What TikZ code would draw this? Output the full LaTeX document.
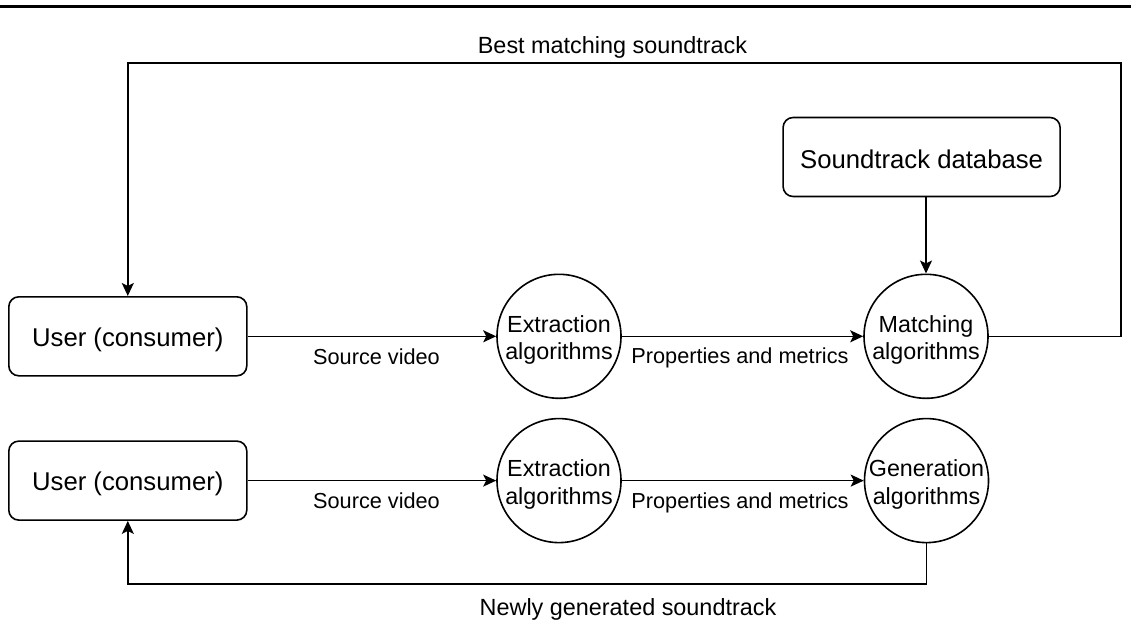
\documentclass[tikz,border=0pt]{standalone}
\usepackage{fontspec}
\setmainfont{Liberation Sans}
\usetikzlibrary{arrows.meta}
\begin{document}
\begin{tikzpicture}[x=1pt,y=-1pt,
  line width=1.6pt,
  box/.style={draw, rounded corners=10pt, minimum width=238pt, minimum height=79pt,
    inner sep=0pt, font=\fontsize{25.7}{30}\selectfont, text height=20pt, text depth=0pt},
  algo/.style={draw, circle, minimum size=124pt, inner sep=0pt},
  algotext/.style={align=center, inner sep=0pt, yshift=-4pt,
    font=\fontsize{23.3}{27.3}\selectfont},
  elabel/.style={anchor=base, inner sep=0pt, font=\fontsize{21.7}{26}\selectfont},
  flabel/.style={anchor=base, inner sep=0pt, font=\fontsize{23.4}{28}\selectfont},
  arr/.style={-{Stealth[length=13pt,width=12pt,inset=3pt]}}
]
\useasboundingbox (0,0) rectangle (1131,640);

% heading rule
\draw[line width=2.5pt] (0,6.5) -- (1131,6.5);

% matching pipeline (top row)
\node[box] (u1) at (127.8,336.3) {User (consumer)};
\node[algo] (ex1) at (559,336.3) {};
\node[algotext] (ex1t) at (ex1) {Extraction\\algorithms};
\node[algo] (mat) at (926,336.3) {};
\node[algotext] (matt) at (mat) {Matching\\algorithms};
\node[box, minimum width=277pt, text height=23pt] (db) at (921.6,157) {Soundtrack database};

% generation pipeline (bottom row)
\node[box] (u2) at (127.8,480.6) {User (consumer)};
\node[algo] (ex2) at (559,480.6) {};
\node[algotext] (ex2t) at (ex2) {Extraction\\algorithms};
\node[algo] (gen) at (926.5,480.6) {};
\node[algotext] (gent) at (gen) {Generation\\algorithms};

% connectors
\coordinate (tr) at (1120.7,63);
\coordinate (bot) at (127.8,584);
\draw[arr] (u1) -- (ex1);
\draw[arr] (ex1) -- (mat);
\draw[arr] (mat.north |- db.south) -- (mat.north);
\draw[arr] (mat.east) -| (tr) -| (u1.north);
\draw[arr] (u2) -- (ex2);
\draw[arr] (ex2) -- (gen);
\draw[arr] (gen.south) |- (bot) -- (u2.south);

% connector labels
\node[flabel] (lbest) at (612.5,53) {Best matching soundtrack};
\node[elabel] (lsv1) at (376.5,364) {Source video};
\node[elabel] (lpm1) at (740,363) {Properties and metrics};
\node[elabel] (lsv2) at (376.5,508.7) {Source video};
\node[elabel] (lpm2) at (740,508) {Properties and metrics};
\node[flabel] (lnew) at (628,615) {Newly generated soundtrack};
\end{tikzpicture}
\end{document}
